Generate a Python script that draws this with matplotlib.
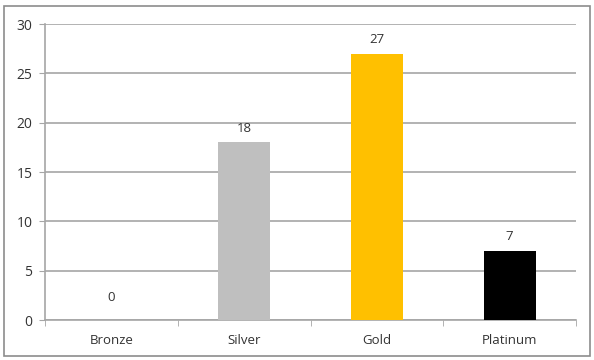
import numpy as np
import matplotlib.pyplot as plt
from matplotlib.patches import Rectangle

categories = ['Bronze', 'Silver', 'Gold', 'Platinum']
values = [0, 18, 27, 7]
colors = ['#CD7F32', '#BFBFBF', '#FFC000', '#000000']

plt.rcParams['font.family'] = ['Open Sans', 'DejaVu Sans']
txt = '#333333'
grid = '#A6A6A6'

fig = plt.figure(figsize=(5.94, 3.6), dpi=100)
ax = fig.add_axes([0.0758, 0.111, 0.894, 0.822])

x = np.arange(len(categories))
ax.bar(x, values, width=0.39, color=colors, zorder=3)
for xi, v in zip(x, values):
    # excel puts the zero label a bit higher
    off = 1.6 if v == 0 else 0.8
    ax.text(xi, v + off, str(v), ha='center', va='bottom', fontsize=9.5, color=txt)

ax.set_xlim(-0.5, len(categories) - 0.5)
ax.set_ylim(0, 30)
ax.set_yticks(range(0, 31, 5))
ax.set_xticks(x)
ax.set_xticklabels(categories)
ax.set_xticks(np.arange(-0.5, len(categories)), minor=True)
ax.tick_params(axis='x', which='major', length=0, pad=10, labelsize=9.5, labelcolor=txt)
ax.tick_params(axis='x', which='minor', length=4, color=grid, direction='out')
ax.tick_params(axis='y', length=4, color=grid, labelsize=10, labelcolor=txt, pad=5)
ax.yaxis.grid(True, color=grid, linewidth=1.2, zorder=0)

for s in ['top', 'right']:
    ax.spines[s].set_visible(False)
for s in ['left', 'bottom']:
    ax.spines[s].set_color(grid)
    ax.spines[s].set_linewidth(1.2)

fig.patches.append(Rectangle((0.006, 0.012), 0.988, 0.97, transform=fig.transFigure,
                             fill=False, edgecolor='#8C8C8C', linewidth=1.2))

fig.savefig('out.png', dpi=100)
